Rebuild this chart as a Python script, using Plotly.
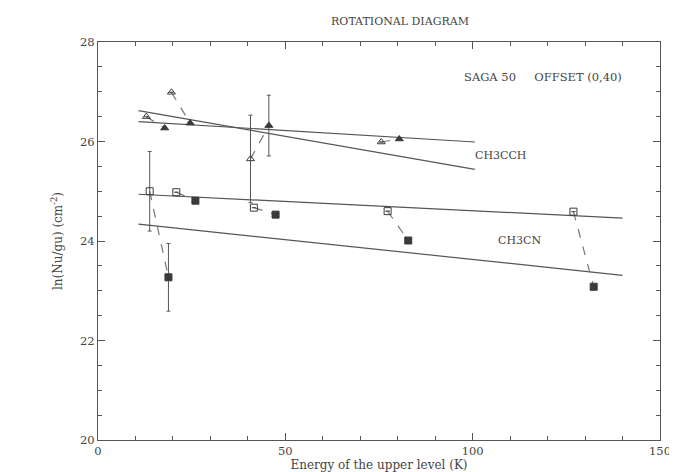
import plotly.graph_objects as go

# CH3CCH (triangles): open = one transition set, filled = offset counterpart
tri_open_x = [12.9, 19.6, 40.7, 75.6]
tri_open_y = [26.50, 26.99, 25.65, 25.99]
tri_open_err = [0.0, 0.0, 0.88, 0.0]
tri_fill_x = [17.8, 24.6, 45.6, 80.4]
tri_fill_y = [26.27, 26.37, 26.32, 26.05]
tri_fill_err = [0.0, 0.0, 0.61, 0.0]

# CH3CN (squares)
sq_open_x = [13.8, 20.9, 41.6, 77.3, 126.9]
sq_open_y = [25.00, 24.98, 24.67, 24.60, 24.59]
sq_open_err = [0.80, 0.0, 0.0, 0.0, 0.0]
sq_fill_x = [18.8, 26.0, 47.4, 82.8, 132.3]
sq_fill_y = [23.27, 24.81, 24.53, 24.01, 23.08]
sq_fill_err = [0.68, 0.0, 0.0, 0.0, 0.0]

# Fitted lines (endpoints)
fit_ch3cch_a_x = [10.8, 100.6]
fit_ch3cch_a_y = [26.62, 25.44]
fit_ch3cch_b_x = [10.8, 100.6]
fit_ch3cch_b_y = [26.40, 25.99]
fit_ch3cn_a_x = [10.8, 140.0]
fit_ch3cn_a_y = [24.94, 24.46]
fit_ch3cn_b_x = [10.8, 140.0]
fit_ch3cn_b_y = [24.34, 23.31]

INK = "#3a3a3a"
LINE = "#555555"
FONT = "DejaVu Serif"

fig = go.Figure()

# fit lines
for fx, fy in [(fit_ch3cch_a_x, fit_ch3cch_a_y), (fit_ch3cch_b_x, fit_ch3cch_b_y),
               (fit_ch3cn_a_x, fit_ch3cn_a_y), (fit_ch3cn_b_x, fit_ch3cn_b_y)]:
    fig.add_trace(go.Scatter(x=fx, y=fy, mode="lines",
                             line=dict(color=LINE, width=1.2), hoverinfo="skip"))

# dashed connectors open -> filled
for ox, oy, fx, fy in [(tri_open_x, tri_open_y, tri_fill_x, tri_fill_y),
                       (sq_open_x, sq_open_y, sq_fill_x, sq_fill_y)]:
    for a, b, c, d in zip(ox, oy, fx, fy):
        fig.add_trace(go.Scatter(x=[a, c], y=[b, d], mode="lines",
                                 line=dict(color="#777777", width=1.2, dash="dash"),
                                 hoverinfo="skip"))

def pts(x, y, err, symbol):
    return go.Scatter(
        x=x, y=y, mode="markers",
        marker=dict(symbol=symbol, size=7, color=INK,
                    line=dict(color=INK, width=1)),
        error_y=dict(type="data", array=err, visible=True, color="#555555",
                     thickness=1, width=2),
    )

fig.add_trace(pts(tri_open_x, tri_open_y, tri_open_err, "triangle-up-open"))
fig.add_trace(pts(tri_fill_x, tri_fill_y, tri_fill_err, "triangle-up"))
fig.add_trace(pts(sq_open_x, sq_open_y, sq_open_err, "square-open"))
fig.add_trace(pts(sq_fill_x, sq_fill_y, sq_fill_err, "square"))

axis_common = dict(
    showgrid=False, zeroline=False, showline=True, linecolor=LINE, linewidth=1,
    mirror="allticks", ticks="inside", ticklen=7, tickcolor=LINE, tickwidth=1,
    tickfont=dict(family=FONT, size=11.5, color="#444444"),
)

fig.update_xaxes(range=[0, 150], tick0=0, dtick=50,
                 minor=dict(dtick=10, ticks="inside", ticklen=4, tickcolor=LINE),
                 title=dict(text="Energy of the upper level (K)",
                            font=dict(family=FONT, size=12, color="#444444"),
                            standoff=2),
                 **axis_common)
fig.update_yaxes(range=[20, 28], tick0=20, dtick=2,
                 minor=dict(dtick=0.5, ticks="inside", ticklen=4, tickcolor=LINE),
                 title=dict(text="ln(Nu/gu) (cm<sup>-2</sup>)",
                            font=dict(family=FONT, size=12, color="#444444"),
                            standoff=14),
                 **axis_common)

txt = dict(family=FONT, size=11, color="#444444")
fig.add_annotation(x=118.8, y=27.3, text="SAGA 50&nbsp;&nbsp;&nbsp;&nbsp;&nbsp;OFFSET (0,40)",
                   showarrow=False, font=dict(family=FONT, size=11.5, color="#444444"))
fig.add_annotation(x=107.5, y=25.71, text="CH3CCH", showarrow=False, font=txt)
fig.add_annotation(x=112.5, y=24.01, text="CH3CN", showarrow=False, font=txt)

fig.update_layout(
    width=677, height=472,
    margin=dict(l=90, r=25, t=34, b=40),
    plot_bgcolor="white", paper_bgcolor="white",
    showlegend=False,
    title=dict(text="ROTATIONAL DIAGRAM", x=392 / 677, xanchor="center",
               y=1 - 13 / 472, yanchor="middle",
               font=dict(family=FONT, size=11, color="#444444")),
)

fig.write_html("out.html")
